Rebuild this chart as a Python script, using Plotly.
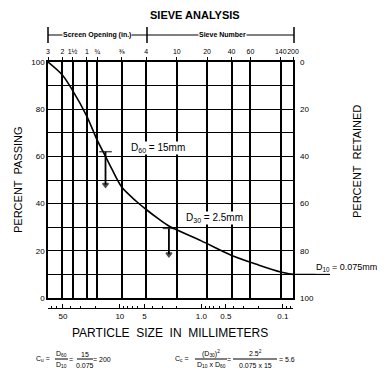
import plotly.graph_objects as go
import math

# ---- data ----
size_mm = [76.2, 50.8, 38.1, 25.4, 19.05, 15.0, 12.7, 9.5, 6.3, 4.75, 3.35, 2.5,
           1.0, 0.425, 0.2, 0.106, 0.075]
pct_passing = [100, 94.5, 88, 77, 67, 60, 55, 47, 41, 37.5, 33.5, 30.5,
               24.2, 18, 14, 11, 10]

sieve_mm = [76.2, 50.8, 38.1, 25.4, 19.05, 9.525, 4.75, 2.0, 0.85, 0.425, 0.25, 0.106, 0.075]
sieve_labels = ["3", "2", "1½", "1", "¾", "⅜", "4", "10", "20", "40", "60", "140", "200"]

mm_ticks = [50, 10, 5, 1.0, 0.5, 0.1]
mm_tick_labels = ["50", "10", "5", "1.0", "0.5", "0.1"]
mm_minor = [70, 60, 40, 30, 20, 9, 8, 7, 6, 4, 3, 2, 0.9, 0.8, 0.7, 0.6, 0.4, 0.3, 0.2, 0.09, 0.08]

pass_ticks = [0, 10, 20, 30, 40, 50, 60, 70, 80, 90, 100]
pass_labels = ["0", "", "20", "", "40", "", "60", "", "80", "", "100"]
ret_ticks = [0, 20, 40, 60, 80, 100]

D60, D30, D10 = 15.0, 2.5, 0.075

FONT = "Liberation Sans, Arial"
xr = [math.log10(76.2), math.log10(0.075)]

fig = go.Figure()

# gradation curve
fig.add_trace(go.Scatter(x=size_mm, y=pct_passing, mode="lines", xaxis="x2", yaxis="y",
                         line=dict(color="black", width=1.6, shape="spline", smoothing=0.8),
                         showlegend=False, hoverinfo="skip"))
# D60 and D30 arrows
for d, y0, y1 in [(D60, 62, 48), (D30, 29.5, 18.5)]:
    fig.add_trace(go.Scatter(x=[d, d], y=[y0, y1], mode="lines+markers", xaxis="x2", yaxis="y",
                             line=dict(color="black", width=1.8),
                             marker=dict(symbol=["line-ew", "triangle-down"], size=[9, 5],
                                         color="black", line=dict(color="black", width=1.5)),
                             showlegend=False, hoverinfo="skip"))
# dummy trace for bottom mm axis
fig.add_trace(go.Scatter(x=[50, 0.1], y=[None, None], xaxis="x", yaxis="y", mode="markers",
                         showlegend=False, hoverinfo="skip"))
# dummy trace for retained axis
fig.add_trace(go.Scatter(x=[50], y=[None], xaxis="x2", yaxis="y2", mode="markers",
                         showlegend=False, hoverinfo="skip"))

ybot = 10 / 246

fig.update_layout(
    width=392, height=382,
    margin=dict(l=48, r=99, t=62, b=74, autoexpand=False),
    paper_bgcolor="white", plot_bgcolor="white",
    font=dict(family=FONT, color="black", size=8),
    xaxis=dict(type="log", range=xr, anchor="free", position=0, automargin=False,
               tickvals=mm_ticks, ticktext=mm_tick_labels, ticks="inside", ticklen=4,
               tickwidth=1, tickcolor="black", tickangle=0,
               minor=dict(tickvals=mm_minor, ticks="inside", ticklen=2, tickcolor="black"),
               showline=True, linecolor="black", linewidth=1, showgrid=False, zeroline=False,
               tickfont=dict(size=8, family=FONT)),
    xaxis2=dict(type="log", range=xr, overlaying="x", side="top", anchor="y", automargin=False,
                tickvals=sieve_mm, ticktext=sieve_labels, ticks="outside", ticklen=3,
                tickcolor="black", tickangle=0, showgrid=True, gridcolor="black", gridwidth=2,
                showline=True, mirror=True, linecolor="black", linewidth=1.5, zeroline=False,
                tickfont=dict(size=7, family=FONT)),
    yaxis=dict(range=[0, 100], domain=[ybot, 1], tickvals=pass_ticks, ticktext=pass_labels,
               automargin=False, ticks="", showgrid=True, gridcolor="black", gridwidth=1.2,
               showline=True, mirror=True, linecolor="black", linewidth=1.5, zeroline=False,
               tickfont=dict(size=8, family=FONT)),
    yaxis2=dict(range=[100, 0], domain=[ybot, 1], overlaying="y", side="right", anchor="x2",
                automargin=False, tickvals=ret_ticks, ticks="", showgrid=False, zeroline=False,
                ticklabelstandoff=6, tickfont=dict(size=8, family=FONT)),
)

def px_x(px):
    return (px - 48) / 245.0

def px_y(py):
    return (308 - py) / 246.0

ann = []
def text(s, px, py, size=8, angle=0, bg=None, xanchor="center"):
    d = dict(text=s, x=px_x(px), y=px_y(py), xref="paper", yref="paper", showarrow=False,
             font=dict(size=size, family=FONT, color="black"), textangle=angle,
             xanchor=xanchor, yanchor="middle")
    if bg:
        d["bgcolor"] = bg
        d["borderpad"] = 0
    ann.append(d)

text("<b>SIEVE ANALYSIS</b>", 195, 15, size=11)
text("PERCENT  PASSING", 18, 180, size=11, angle=-90)
text("PERCENT  RETAINED", 357, 162, size=11, angle=-90)
text("PARTICLE  SIZE  IN  MILLIMETERS", 170, 333, size=12)
text("D<sub>60</sub> = 15mm", 158, 148, size=10, bg="white")
text("D<sub>30</sub> = 2.5mm", 214, 218, size=10, bg="white")
text("D<sub>10</sub> = 0.075mm", 346, 267, size=9, bg="white")
text("<b>Screen Opening (in.)</b>", 97, 35, size=7, bg="white")
text("<b>Sieve Number</b>", 222, 35, size=7, bg="white")

# formulas
fs = 7
text("C<sub>u</sub> =", 43, 359, size=fs)
text("D<sub>60</sub>", 61, 354, size=fs)
text("D<sub>10</sub>", 61, 365, size=fs)
text("=", 71, 359, size=fs)
text("15", 85, 354, size=fs)
text("0.075", 85, 365, size=fs)
text("= 200", 102, 359, size=fs)
text("C<sub>c</sub> =", 182, 359, size=fs)
text("(D<sub>30</sub>)<sup>2</sup>", 211, 353, size=fs)
text("D<sub>10</sub> x D<sub>60</sub>", 211, 365, size=fs)
text("=", 229, 359, size=fs)
text("2.5<sup>2</sup>", 255, 353, size=fs)
text("0.075 x 15", 255, 365, size=fs)
text("= 5.6", 287, 359, size=fs)

shapes = []
def hline(x0, x1, py, w=1):
    shapes.append(dict(type="line", xref="paper", yref="paper", x0=px_x(x0), x1=px_x(x1),
                       y0=px_y(py), y1=px_y(py), line=dict(color="black", width=w)))
def vline(px, y0, y1, w=1.5):
    shapes.append(dict(type="line", xref="paper", yref="paper", x0=px_x(px), x1=px_x(px),
                       y0=px_y(y0), y1=px_y(y1), line=dict(color="black", width=w)))

# top brackets
hline(48, 294, 35)
vline(48, 27, 43)
vline(147, 27, 43)
vline(294, 27, 43)
# fraction bars
hline(55, 68, 359)
hline(77, 93, 359)
hline(195, 227, 359)
hline(233, 277, 359)
# D10 horizontal line
shapes.append(dict(type="line", xref="paper", yref="y", x0=px_x(284), x1=px_x(330),
                   y0=10, y1=10, line=dict(color="black", width=1.2)))

fig.update_layout(annotations=ann, shapes=shapes)
fig.write_html("out.html", config={"displayModeBar": False},
               post_script="document.body.style.margin='0px';document.body.style.overflow='hidden';")
